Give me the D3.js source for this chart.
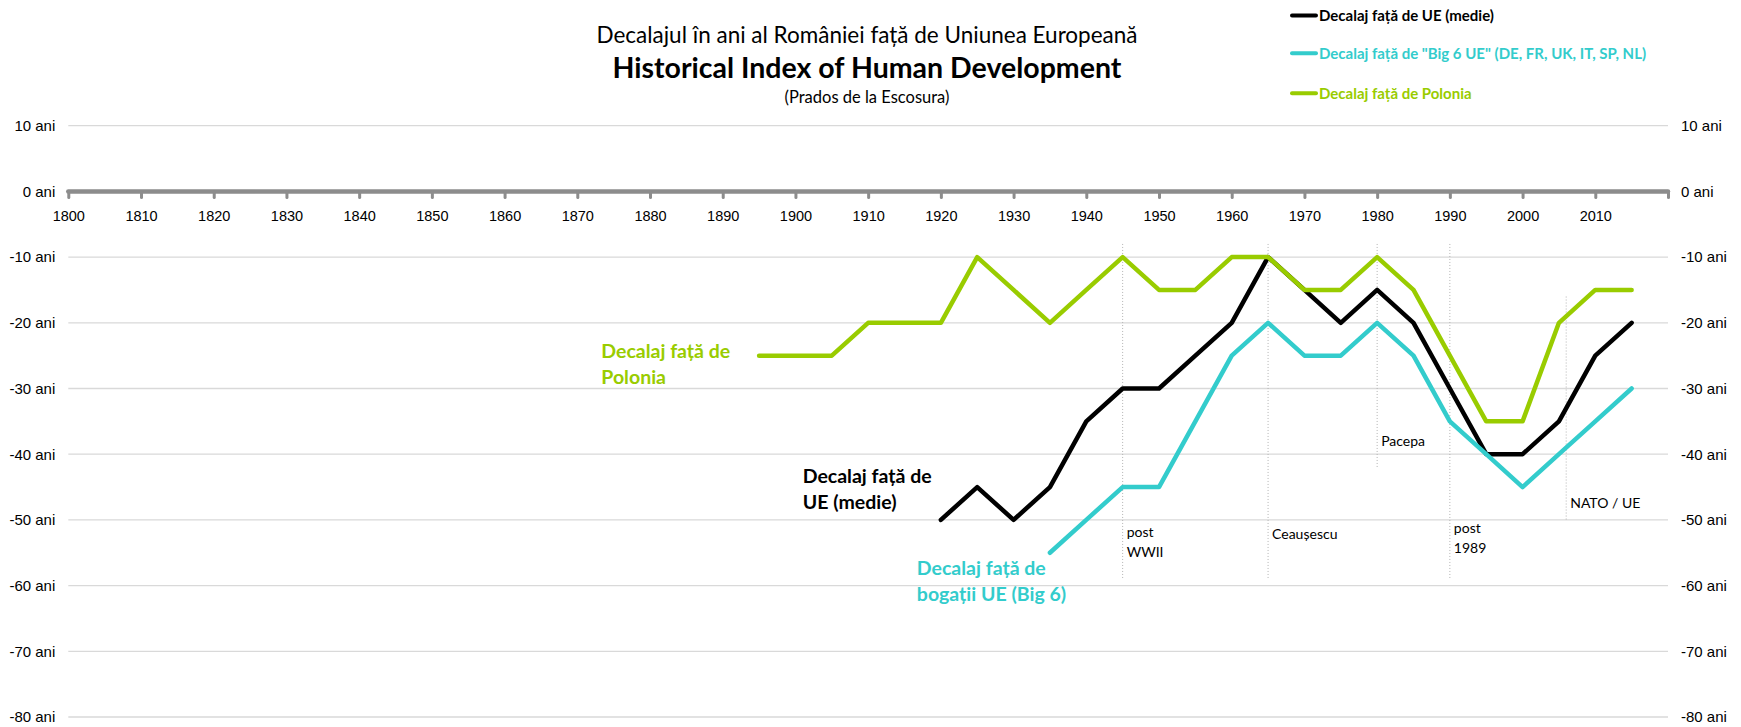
<!DOCTYPE html>
<html>
<head>
<meta charset="utf-8">
<script src="https://cdn.jsdelivr.net/npm/d3@7"></script>
<style>
  body { margin: 0; background: #fff; }
  svg { display: block; font-family: Lato, 'Open Sans', sans-serif; }
  .grid line { stroke: #d9d9d9; stroke-width: 1.3; }
  .ylab text { font-size: 15px; fill: #000; }
  .xaxis text { font-size: 14.5px; fill: #000; }
</style>
</head>
<body>
<div id="chart"></div>
<script>
  // years with a value every 5 years
  const years = [1895, 1900, 1905, 1910, 1915, 1920, 1925, 1930, 1935, 1940, 1945, 1950, 1955,
    1960, 1965, 1970, 1975, 1980, 1985, 1990, 1995, 2000, 2005, 2010, 2015];

  const gapUE = [null, null, null, null, null, -50, -45, -50, -45, -35, -30, -30, -25,
    -20, -10, -15, -20, -15, -20, -30, -40, -40, -35, -25, -20];
  const gapBig6 = [null, null, null, null, null, null, null, null, -55, -50, -45, -45, -35,
    -25, -20, -25, -25, -20, -25, -35, -40, -45, -40, -35, -30];
  const gapPolonia = [-25, -25, -25, -20, -20, -20, -10, -15, -20, -15, -10, -15, -15,
    -10, -10, -15, -15, -10, -15, -25, -35, -35, -20, -15, -15];

  const seriesNames = ['Decalaj față de UE (medie)', 'Decalaj față de "Big 6 UE" (DE, FR, UK, IT, SP, NL)', 'Decalaj față de Polonia'];
  const seriesColors = ['#000000', '#33cccc', '#99cc00'];

  const decadeTicks = [1800, 1810, 1820, 1830, 1840, 1850, 1860, 1870, 1880, 1890, 1900, 1910,
    1920, 1930, 1940, 1950, 1960, 1970, 1980, 1990, 2000, 2010, 2020];
  const yTicks = [10, 0, -10, -20, -30, -40, -50, -60, -70, -80];

  // in-chart labels for the lines (year, value of the first text line)
  const lineLabels = [
    { lines: ['Decalaj față de', 'UE (medie)'], year: 1901, value: -43.3 },
    { lines: ['Decalaj față de', 'bogații UE (Big 6)'], year: 1916.7, value: -57.3 },
    { lines: ['Decalaj față de', 'Polonia'], year: 1873.3, value: -24.3 }
  ];

  // dotted event markers
  const eventYears = [1945, 1965, 1980, 1990, 2006];
  const eventTop = [-8, -8, -8, -8, -16];
  const eventBottom = [-59, -59, -42, -59, -50];
  const eventTexts = [['post', 'WWII'], ['Ceaușescu'], ['Pacepa'], ['post', '1989'], ['NATO / UE']];
  const eventTextAt = [-51.9, -52.2, -38, -51.2, -47.4];

  const W = 1741, H = 727;
  const x = d3.scaleLinear().domain([1800, 2020]).range([68.3, 1668]);
  const y = d3.scaleLinear().domain([10, -80]).range([125.7, 717]);

  const svg = d3.select('#chart').append('svg')
    .attr('width', W)
    .attr('height', H);

  svg.append('rect').attr('width', W).attr('height', H).attr('fill', '#fff');

  // titles
  svg.append('text')
    .attr('x', 867).attr('y', 43)
    .attr('text-anchor', 'middle')
    .style('font-size', '22.5px')
    .text('Decalajul în ani al României față de Uniunea Europeană');
  svg.append('text')
    .attr('x', 867).attr('y', 77.5)
    .attr('text-anchor', 'middle')
    .style('font-size', '28.5px')
    .style('font-weight', 'bold')
    .text('Historical Index of Human Development');
  svg.append('text')
    .attr('x', 867).attr('y', 103)
    .attr('text-anchor', 'middle')
    .style('font-size', '16.5px')
    .text('(Prados de la Escosura)');

  // horizontal gridlines
  svg.append('g')
    .attr('class', 'grid')
    .selectAll('line')
    .data(yTicks.filter(d => d !== 0))
    .enter()
    .append('line')
    .attr('x1', x(1800))
    .attr('x2', x(2020))
    .attr('y1', d => y(d))
    .attr('y2', d => y(d));

  // value labels, both sides
  const yFmt = d => `${d} ani`;
  svg.append('g')
    .attr('class', 'ylab')
    .attr('transform', `translate(${x(1800)},0)`)
    .call(d3.axisLeft(y).tickValues(yTicks).tickSize(0).tickPadding(13).tickFormat(yFmt))
    .call(g => g.select('.domain').remove());
  svg.append('g')
    .attr('class', 'ylab')
    .attr('transform', `translate(${x(2020)},0)`)
    .call(d3.axisRight(y).tickValues(yTicks).tickSize(0).tickPadding(13).tickFormat(yFmt))
    .call(g => g.select('.domain').remove());

  // year axis on the 0 line
  const xAxis = svg.append('g')
    .attr('class', 'xaxis')
    .attr('transform', `translate(0,${y(0)})`)
    .call(d3.axisBottom(x).tickValues(decadeTicks).tickSize(6).tickPadding(13)
      .tickFormat(d => d === 2020 ? '' : d));
  xAxis.select('.domain')
    .attr('d', `M${x(1800)},0H${x(2020)}`)
    .attr('stroke', '#8c8c8c')
    .attr('stroke-width', 4.5)
    .attr('stroke-linecap', 'round');
  xAxis.selectAll('.tick line')
    .attr('stroke', '#8c8c8c')
    .attr('stroke-width', 3)
    .attr('stroke-linecap', 'round');

  // event markers
  const events = svg.append('g');
  eventYears.forEach((yr, i) => {
    events.append('line')
      .attr('x1', x(yr)).attr('x2', x(yr))
      .attr('y1', y(eventTop[i])).attr('y2', y(eventBottom[i]))
      .attr('stroke', '#b3b3b3')
      .attr('stroke-width', 1)
      .attr('stroke-dasharray', '1,2');
    const t = events.append('text')
      .attr('y', y(eventTextAt[i]))
      .style('font-size', '14px');
    eventTexts[i].forEach((s, j) => {
      t.append('tspan').attr('x', x(yr) + 4).attr('dy', j === 0 ? '0.35em' : '20px').text(s);
    });
  });

  // lines
  const allSeries = [gapUE, gapBig6, gapPolonia];
  const line = d3.line()
    .defined(d => d.v !== null)
    .x(d => x(d.year))
    .y(d => y(d.v));

  allSeries.forEach((vals, i) => {
    const pts = years.map((yr, k) => ({ year: yr, v: vals[k] }));
    svg.append('path')
      .attr('d', line(pts))
      .attr('fill', 'none')
      .attr('stroke', seriesColors[i])
      .attr('stroke-width', 4.5)
      .attr('stroke-linejoin', 'round')
      .attr('stroke-linecap', 'round');
  });

  // line labels
  lineLabels.forEach((lb, i) => {
    const t = svg.append('text')
      .attr('y', y(lb.value))
      .style('font-size', '19.5px')
      .style('font-weight', 'bold')
      .attr('fill', seriesColors[i]);
    lb.lines.forEach((s, j) => {
      t.append('tspan').attr('x', x(lb.year)).attr('dy', j === 0 ? '0.35em' : '26.5px').text(s);
    });
  });

  // legend
  const legendY = [15.5, 53.3, 93.3];
  const legend = svg.append('g');
  seriesNames.forEach((name, i) => {
    legend.append('line')
      .attr('x1', 1292).attr('x2', 1316)
      .attr('y1', legendY[i]).attr('y2', legendY[i])
      .attr('stroke', seriesColors[i])
      .attr('stroke-width', 4)
      .attr('stroke-linecap', 'round');
    legend.append('text')
      .attr('x', 1319)
      .attr('y', legendY[i])
      .attr('dy', '0.35em')
      .attr('fill', seriesColors[i])
      .style('font-size', '15px')
      .style('font-weight', 'bold')
      .text(name);
  });
</script>
</body>
</html>
